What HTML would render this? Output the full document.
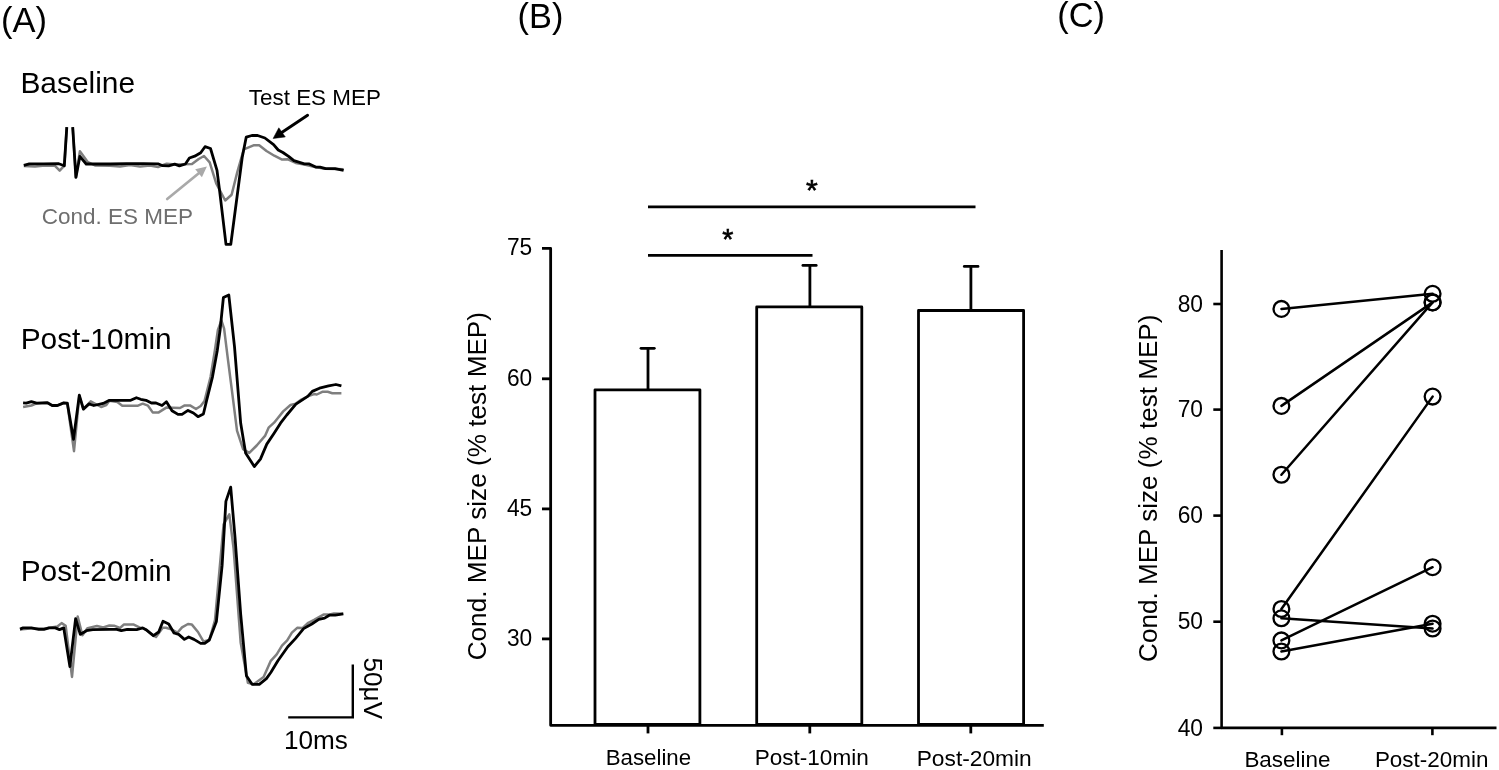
<!DOCTYPE html>
<html><head><meta charset="utf-8"><style>
html,body{margin:0;padding:0;background:#fff;width:1499px;height:770px;overflow:hidden;font-family:"Liberation Sans",sans-serif;}
svg{display:block;will-change:transform}
</style></head><body>
<svg width="1499" height="770" viewBox="0 0 1499 770">
<rect width="1499" height="770" fill="#fff"/>
<g font-family="'Liberation Sans', sans-serif" fill="#000">
<text x="1.1" y="31.70" font-size="34.5">(A)</text>
<text x="20.45" y="92.60" font-size="29.9">Baseline</text>
<text x="20.65" y="349.05" font-size="29.86">Post-10min</text>
<text x="20.65" y="581.10" font-size="29.86">Post-20min</text>
<text x="248.85" y="104.80" font-size="22.41">Test ES MEP</text>
<text x="41.7" y="224.05" font-size="22.49" fill="#6e6e6e">Cond. ES MEP</text>
<text x="283.95" y="749.10" font-size="26.13">10ms</text>
<text transform="translate(363.9,657.55) rotate(90)" font-size="26.12">50μV</text>
</g>
<g fill="none" stroke-linejoin="round" stroke-linecap="butt">
<polyline points="23.8,166 35,166.5 45,165.5 55,165.8 59.7,170.6 64.3,165.7 66.8,127.2" stroke="#7f7f7f" stroke-width="2.5"/>
<polyline points="72.7,127.2 75.9,177 79.9,151.2 87.5,161.8 95,165.5 110,165.8 120,166.5 130,165 140,166.5 150,165.5 158,167 166.7,163.7 175,164.5 192,164 198.7,159 204,156 209.7,162.3 216.2,183.4 225.2,200.5 231.6,194.8 237.3,172.1 243.8,149.3 253.5,145.3 259.2,145.3 266.5,151 274.3,155.7 282.1,159.6 287.9,159.3 295.7,162.9 304.3,164.6 315,167 325,168.8 335,169 343.6,169.3" stroke="#7f7f7f" stroke-width="2.5"/>
<polyline points="23.1,407 31.4,405.5 36.6,403.4 47.5,403 52.2,405.5 57.4,405.5 63.7,403 67.3,403.5 74,451.2 79.3,396 83.4,409 90.7,401.3 101.1,407 106.3,405 109.4,400.8 117.3,402 122.3,405.7 138,405.7 142.7,403.7 148,405.7 152.7,412.4 158.7,412.4 166.7,407.4 172.7,407.7 180,408 184.7,405.4 190,405.4 196,409 200.7,406 204.5,401 210.6,376.8 214.8,351 217.9,330 221.4,320.5 224.1,328.6 227.7,357.7 232,391.2 237,430.7 243.1,449.2 249.3,452.9 256.7,445.5 265,435.9 268.6,427.7 274.1,422.7 283.2,411.4 290.5,405 295.9,403.6 301.4,399.5 307.7,396.4 314.1,394.1 316.8,394.5 322.3,391.8 327.7,391.8 332.3,393.2 341.4,393.2" stroke="#7f7f7f" stroke-width="2.5"/>
<polyline points="20,629.6 30,628.5 45,628.5 57.4,626.5 61.6,623.1 65.7,625.8 72,676.9 77.7,616.6 82.4,635.3 87.6,628.1 96.9,626 103.2,627.5 109.4,625.5 114,625.7 120,628 124,624.4 133.3,624.4 139.4,627.4 142.7,628 146,629.7 153.4,635.7 156,637 162.7,627.7 166,627.7 171.4,629.4 177.4,632.7 182,627.4 188,624 191.7,624.4 198,632 203.4,641.4 209.3,640 215,620 223.6,524.3 229.3,514.3 233.6,548.6 240.7,642.9 247.9,682.9 253.6,684.3 263.6,677.1 270.8,660.8 276.7,654.4 282,645.6 287.2,640.3 291.9,632.7 297.2,627.8 302.4,628.1 308.3,622.8 314.1,619.9 323.5,614.6 328.7,614.6 334,613.4 343.3,613.8" stroke="#7f7f7f" stroke-width="2.5"/>
<polyline points="23.8,165.4 29.3,163.9 43.6,163.9 58.8,163.7 64.3,165.7 66.8,127.2" stroke="#000" stroke-width="2.8"/>
<polyline points="72.7,127.2 75.9,177.4 79.9,156.3 86.2,164 110,164 126.7,163.7 143.4,163.6 158,163.8 162.7,165.7 168.7,165.8 174.7,164.2 179.4,165.8 185.4,164 189.4,158 194.7,156.2 200.7,152.7 205,146.7 210.5,148.5 217,170.4 219.5,189.9 226,244.3 230.8,244.3 242.2,157.5 246.2,137.2 251.9,135.5 257.6,135.5 264.9,138 273.6,144.6 278.2,150 282.9,152.5 288.6,156.4 293.9,160.7 304.3,163.9 309.3,163.9 315.7,167.1 320,167.1 325.7,168.6 335,168.6 343.6,170.4" stroke="#000" stroke-width="2.8"/>
<polyline points="23.1,402.9 26.2,403.1 31.4,401.6 36.6,403.1 47.5,402.7 52.2,405.5 57.4,405.5 63.7,402.9 67.3,403.1 73.5,439.3 79.3,395.1 83.4,409.1 89.1,403.9 93.8,405.5 103.2,403.4 109.4,400.3 130.7,400.3 136.4,397.7 140.7,399.3 146,400.3 151.4,403 156,403 162,405.5 166.4,401.7 172,410.7 178,414.4 182,414.4 188,410.4 193.4,413 198,416.7 203.4,414 206.7,400.2 212.5,376.8 217.2,351 220.1,330 223.4,297.5 228.8,295 234.5,346.7 240.7,423.3 245.6,452.9 254.3,466.5 260.4,459.1 266.8,444.1 274.1,433.2 280.5,423.2 286.8,415 295.9,404.1 307.7,396.4 312.3,391.4 319.5,388.2 328.6,385.9 335.9,384.5 341.4,385.9" stroke="#000" stroke-width="2.8"/>
<polyline points="20,629.1 23.1,627.9 31.4,627.9 38.7,629.3 43.9,629.3 49.1,627.9 55.3,627.9 59.5,629.6 63.7,627.9 69.9,666.5 75.6,618.7 80.3,634.3 86.5,630.7 92.8,629.6 110,629.4 116.7,629.4 121.3,630.7 127.3,629.4 136.7,629.6 142.7,628 146,629.7 153.4,635.7 158.7,632 163,621.3 168.7,624 174,633 178.7,634.4 184.4,639.4 188.7,637 194,639.4 200.7,643.4 204.7,643.4 209.3,640 216.4,621.4 222.1,565.7 225.9,501.4 230.7,487.1 235,537.1 240.7,614.3 246.4,675.7 252.1,684.3 259.3,684.3 266.4,678.6 270.8,672.5 277.9,660.8 287.8,646.8 295.4,638.6 303.6,628.6 311.8,624 318.8,619.3 324.6,618.1 329.3,615.2 335.2,615.2 343.3,613.8" stroke="#000" stroke-width="2.8"/>
</g>
<line x1="307.6" y1="115.3" x2="281" y2="133" stroke="#000" stroke-width="2.9" stroke-linecap="round"/>
<polygon points="273.1,138.5 278.8,127.8 285.3,136.9" fill="#000" stroke="#000" stroke-width="0.5" stroke-linejoin="round"/>
<line x1="167.2" y1="199" x2="200" y2="172.3" stroke="#a9a9a9" stroke-width="2.7" stroke-linecap="round"/>
<polygon points="206.9,166.6 195.2,169.2 201.9,177.3" fill="#a9a9a9"/>
<polyline points="288.2,717.4 352.8,717.4 352.8,664.5" fill="none" stroke="#000" stroke-width="2.4"/>
<g font-family="'Liberation Sans', sans-serif" fill="#000">
<text x="517.6" y="28.10" font-size="34.35">(B)</text>
<text transform="translate(532.2,255.40) scale(1,1.085)" font-size="22.76" text-anchor="end">75</text>
<text transform="translate(532.2,385.80) scale(1,1.085)" font-size="22.76" text-anchor="end">60</text>
<text transform="translate(532.2,515.90) scale(1,1.085)" font-size="22.76" text-anchor="end">45</text>
<text transform="translate(532.2,645.90) scale(1,1.085)" font-size="22.76" text-anchor="end">30</text>
<text x="605.7" y="764.75" font-size="22.28">Baseline</text>
<text x="754.7" y="764.75" font-size="22.56">Post-10min</text>
<text x="916.7" y="766.35" font-size="22.76">Post-20min</text>
<text transform="translate(485.6,660.35) rotate(-90)" font-size="26.17">Cond. MEP size (% test MEP)</text>
<text x="806.05" y="200.25" font-size="30.27" stroke="#000" stroke-width="0.6">*</text>
<text x="722.35" y="248.65" font-size="28.64" stroke="#000" stroke-width="0.6">*</text>
</g>
<g fill="none" stroke="#000" stroke-width="2.8" stroke-linejoin="round">
<polyline points="542,248.4 550.65,248.4 550.65,725.3 1043.8,725.3"/>
<line x1="542" y1="378.8" x2="550.65" y2="378.8"/>
<line x1="542" y1="508.9" x2="550.65" y2="508.9"/>
<line x1="542" y1="638.9" x2="550.65" y2="638.9"/>
<line x1="648" y1="725.3" x2="648" y2="733.4"/>
<line x1="809.8" y1="725.3" x2="809.8" y2="733.4"/>
<line x1="970.8" y1="725.3" x2="970.8" y2="733.4"/>
<polyline points="595,724.3 595,389.8 699.9,389.8 699.9,724.3"/>
<line x1="595" y1="724.3" x2="699.9" y2="724.3"/>
<polyline points="756.7,724.3 756.7,306.9 861.8,306.9 861.8,724.3"/>
<line x1="756.7" y1="724.3" x2="861.8" y2="724.3"/>
<polyline points="918.5,724.3 918.5,310.5 1023.6,310.5 1023.6,724.3"/>
<line x1="918.5" y1="724.3" x2="1023.6" y2="724.3"/>
<line x1="648" y1="389.8" x2="648" y2="348.3"/>
<line x1="641" y1="348.3" x2="654.3" y2="348.3" stroke-linecap="round"/>
<line x1="809.9" y1="306.9" x2="809.9" y2="265.4"/>
<line x1="802.9" y1="265.4" x2="816.2" y2="265.4" stroke-linecap="round"/>
<line x1="970.9" y1="310.5" x2="970.9" y2="266.4"/>
<line x1="964.3" y1="266.4" x2="978.0" y2="266.4" stroke-linecap="round"/>
<line x1="648" y1="206.8" x2="975.5" y2="206.8"/>
<line x1="648" y1="255.4" x2="812.5" y2="255.4"/>
</g>
<g font-family="'Liberation Sans', sans-serif" fill="#000">
<text x="1057.25" y="26.85" font-size="34.3">(C)</text>
<text transform="translate(1203.06,311.60) scale(1,1.075)" font-size="22.81" text-anchor="end">80</text>
<text transform="translate(1203.06,417.20) scale(1,1.075)" font-size="22.81" text-anchor="end">70</text>
<text transform="translate(1203.06,523.20) scale(1,1.075)" font-size="22.81" text-anchor="end">60</text>
<text transform="translate(1203.06,629.30) scale(1,1.075)" font-size="22.81" text-anchor="end">50</text>
<text transform="translate(1203.06,735.50) scale(1,1.075)" font-size="22.81" text-anchor="end">40</text>
<text x="1244.4" y="767.15" font-size="22.44">Baseline</text>
<text x="1374.9" y="767.15" font-size="22.44">Post-20min</text>
<text transform="translate(1156.6,661.9) rotate(-90)" font-size="26.08">Cond. MEP size (% test MEP)</text>
</g>
<g fill="none" stroke="#000" stroke-width="2.6" stroke-linejoin="round">
<polyline points="1221.6,249.9 1221.6,727.9 1496.5,727.9"/>
<line x1="1213.3" y1="304.0" x2="1221.6" y2="304.0"/>
<line x1="1213.3" y1="409.6" x2="1221.6" y2="409.6"/>
<line x1="1213.3" y1="515.6" x2="1221.6" y2="515.6"/>
<line x1="1213.3" y1="621.7" x2="1221.6" y2="621.7"/>
<line x1="1213.3" y1="727.9" x2="1221.6" y2="727.9"/>
<line x1="1281.9" y1="727.9" x2="1281.9" y2="735.2"/>
<line x1="1432.4" y1="727.9" x2="1432.4" y2="735.2"/>
<line x1="1281.4" y1="308.9" x2="1432.6" y2="293.8" stroke-width="2.5" stroke-linecap="round"/>
<line x1="1281.4" y1="405.9" x2="1432.6" y2="302.4" stroke-width="2.5" stroke-linecap="round"/>
<line x1="1281.4" y1="474.75" x2="1432.6" y2="302.4" stroke-width="2.5" stroke-linecap="round"/>
<line x1="1281.4" y1="609.0" x2="1432.6" y2="396.6" stroke-width="2.5" stroke-linecap="round"/>
<line x1="1281.4" y1="640.4" x2="1432.6" y2="567.2" stroke-width="2.5" stroke-linecap="round"/>
<line x1="1281.4" y1="618.3" x2="1432.6" y2="628.5" stroke-width="2.5" stroke-linecap="round"/>
<line x1="1281.4" y1="651.5" x2="1432.6" y2="623.7" stroke-width="2.5" stroke-linecap="round"/>
<circle cx="1281.4" cy="308.9" r="7.9" stroke-width="2.3"/>
<circle cx="1432.6" cy="293.8" r="7.9" stroke-width="2.3"/>
<circle cx="1281.4" cy="405.9" r="7.9" stroke-width="2.3"/>
<circle cx="1432.6" cy="302.4" r="7.9" stroke-width="2.3"/>
<circle cx="1281.4" cy="474.75" r="7.9" stroke-width="2.3"/>
<circle cx="1432.6" cy="302.4" r="7.9" stroke-width="2.3"/>
<circle cx="1281.4" cy="609.0" r="7.9" stroke-width="2.3"/>
<circle cx="1432.6" cy="396.6" r="7.9" stroke-width="2.3"/>
<circle cx="1281.4" cy="640.4" r="7.9" stroke-width="2.3"/>
<circle cx="1432.6" cy="567.2" r="7.9" stroke-width="2.3"/>
<circle cx="1281.4" cy="618.3" r="7.9" stroke-width="2.3"/>
<circle cx="1432.6" cy="628.5" r="7.9" stroke-width="2.3"/>
<circle cx="1281.4" cy="651.5" r="7.9" stroke-width="2.3"/>
<circle cx="1432.6" cy="623.7" r="7.9" stroke-width="2.3"/>
</g>
</svg>
</body></html>
